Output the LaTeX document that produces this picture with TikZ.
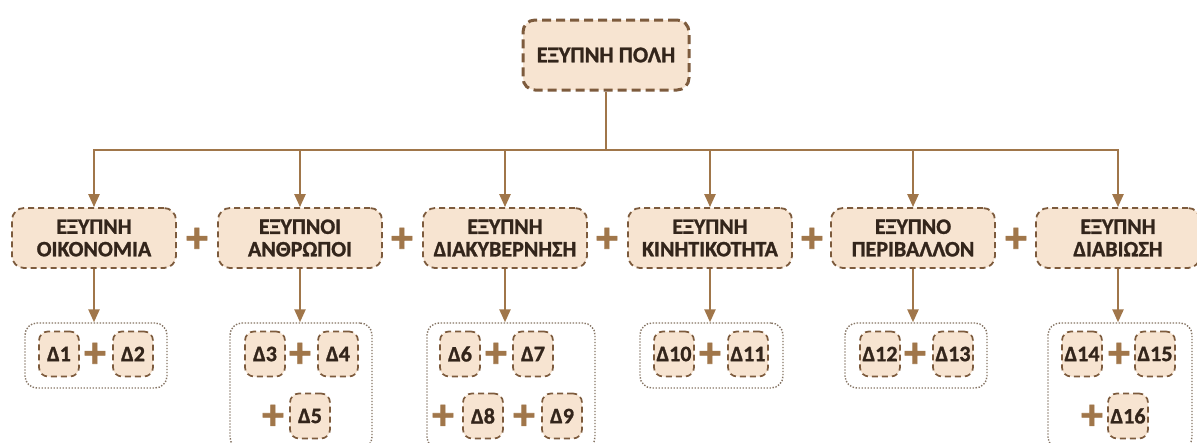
\documentclass[tikz,border=0pt]{standalone}
\usepackage{fontspec}
\setmainfont{Carlito}[BoldFeatures={FakeBold=1.2}]
\usetikzlibrary{arrows.meta}

\definecolor{boxfill}{HTML}{F7E4D1}
\definecolor{boxline}{HTML}{7D5B3D}
\definecolor{linkcol}{HTML}{A0764A}
\definecolor{txtcol}{HTML}{33251B}
\definecolor{dotcol}{HTML}{857464}

\tikzset{
  city/.style={draw=boxline,fill=boxfill,line width=3pt,dash pattern=on 9pt off 5pt,
    rounded corners=12pt,minimum width=166pt,minimum height=70pt,
    text=txtcol,font=\fontsize{22.5}{24}\selectfont\bfseries},
  area/.style={draw=boxline,fill=boxfill,line width=1.8pt,dash pattern=on 6pt off 4pt,
    rounded corners=12pt,minimum width=164pt,minimum height=60pt,align=center,
    text=txtcol,font=\fontsize{22}{22.5}\selectfont\bfseries},
  group/.style={draw=dotcol,line width=1.4pt,dash pattern=on 1.4pt off 1.6pt,
    rounded corners=12pt,inner sep=0pt},
  dbox/.style={draw=boxline,fill=boxfill,line width=1.7pt,dash pattern=on 6pt off 4pt,
    rounded corners=9pt,minimum width=40pt,minimum height=45pt,inner sep=1pt,
    text=txtcol,font=\fontsize{22}{24}\selectfont\bfseries},
  plus/.style={text=linkcol,inner sep=0pt,font=\fontsize{44}{44}\selectfont\bfseries},
  link/.style={draw=linkcol,line width=2.4pt,-{Triangle[width=11pt,length=13pt]}}
}

\begin{document}
\begin{tikzpicture}[x=1pt,y=-1pt]
\useasboundingbox (0,0) rectangle (1197,442);
\clip (0,0) rectangle (1197,442);

% top of the tree
\node[city] (city) at (606,55) {ΕΞΥΠΝΗ ΠΟΛΗ};
\coordinate (bus) at (606,150);

% the six areas
\node[area] (n1) at (94,238) {ΕΞΥΠΝΗ\\ΟΙΚΟΝΟΜΙΑ};
\node[area] (n2) at (300,238) {ΕΞΥΠΝΟΙ\\ΑΝΘΡΩΠΟΙ};
\node[area] (n3) at (505,238) {ΕΞΥΠΝΗ\\ΔΙΑΚΥΒΕΡΝΗΣΗ};
\node[area] (n4) at (710,238) {ΕΞΥΠΝΗ\\ΚΙΝΗΤΙΚΟΤΗΤΑ};
\node[area] (n5) at (913,238) {ΕΞΥΠΝΟ\\ΠΕΡΙΒΑΛΛΟΝ};
\node[area] (n6) at (1118,238) {ΕΞΥΠΝΗ\\ΔΙΑΒΙΩΣΗ};

\node[plus] (p1) at (197,240) {+};
\node[plus] (p2) at (402,240) {+};
\node[plus] (p3) at (607,240) {+};
\node[plus] (p4) at (812,240) {+};
\node[plus] (p5) at (1016,240) {+};

% dotted groups
\node[group,minimum width=142pt,minimum height=65pt] (g1) at (96,355.5) {};
\node[group,minimum width=142pt,minimum height=126pt] (g2) at (301,386) {};
\node[group,minimum width=168pt,minimum height=126pt] (g3) at (511,386) {};
\node[group,minimum width=143pt,minimum height=65pt] (g4) at (711.5,355.5) {};
\node[group,minimum width=142pt,minimum height=65pt] (g5) at (916,355.5) {};
\node[group,minimum width=144pt,minimum height=126pt] (g6) at (1120,386) {};

\draw[draw=linkcol,line width=2.4pt] (city.south) -- (bus);
\foreach \i in {1,...,6}{
  \draw[link] (bus) -| (n\i.north);
  \draw[link] (n\i.south) -- (n\i.south |- g\i.north);
}

% items
\node[dbox] (d1) at (59,354) {Δ1};
\node[plus] (q1) at (95,355) {+};
\node[dbox] (d2) at (133,354) {Δ2};

\node[dbox] (d3) at (265,354) {Δ3};
\node[plus] (q2) at (300,355) {+};
\node[dbox] (d4) at (338,354) {Δ4};
\node[plus] (q3) at (273,417) {+};
\node[dbox] (d5) at (310,416) {Δ5};

\node[dbox] (d6) at (460,354) {Δ6};
\node[plus] (q4) at (496,355) {+};
\node[dbox] (d7) at (533,354) {Δ7};
\node[plus] (q5) at (443,417) {+};
\node[dbox] (d8) at (483,416) {Δ8};
\node[plus] (q6) at (524,417) {+};
\node[dbox] (d9) at (562,416) {Δ9};

\node[dbox] (d10) at (674,354) {Δ10};
\node[plus] (q7) at (710,355) {+};
\node[dbox] (d11) at (748,354) {Δ11};

\node[dbox] (d12) at (880,354) {Δ12};
\node[plus] (q8) at (915,355) {+};
\node[dbox] (d13) at (953,354) {Δ13};

\node[dbox] (d14) at (1082,354) {Δ14};
\node[plus] (q9) at (1119,355) {+};
\node[dbox] (d15) at (1155,354) {Δ15};
\node[plus] (q10) at (1092,417) {+};
\node[dbox] (d16) at (1128,416) {Δ16};
\end{tikzpicture}
\end{document}
